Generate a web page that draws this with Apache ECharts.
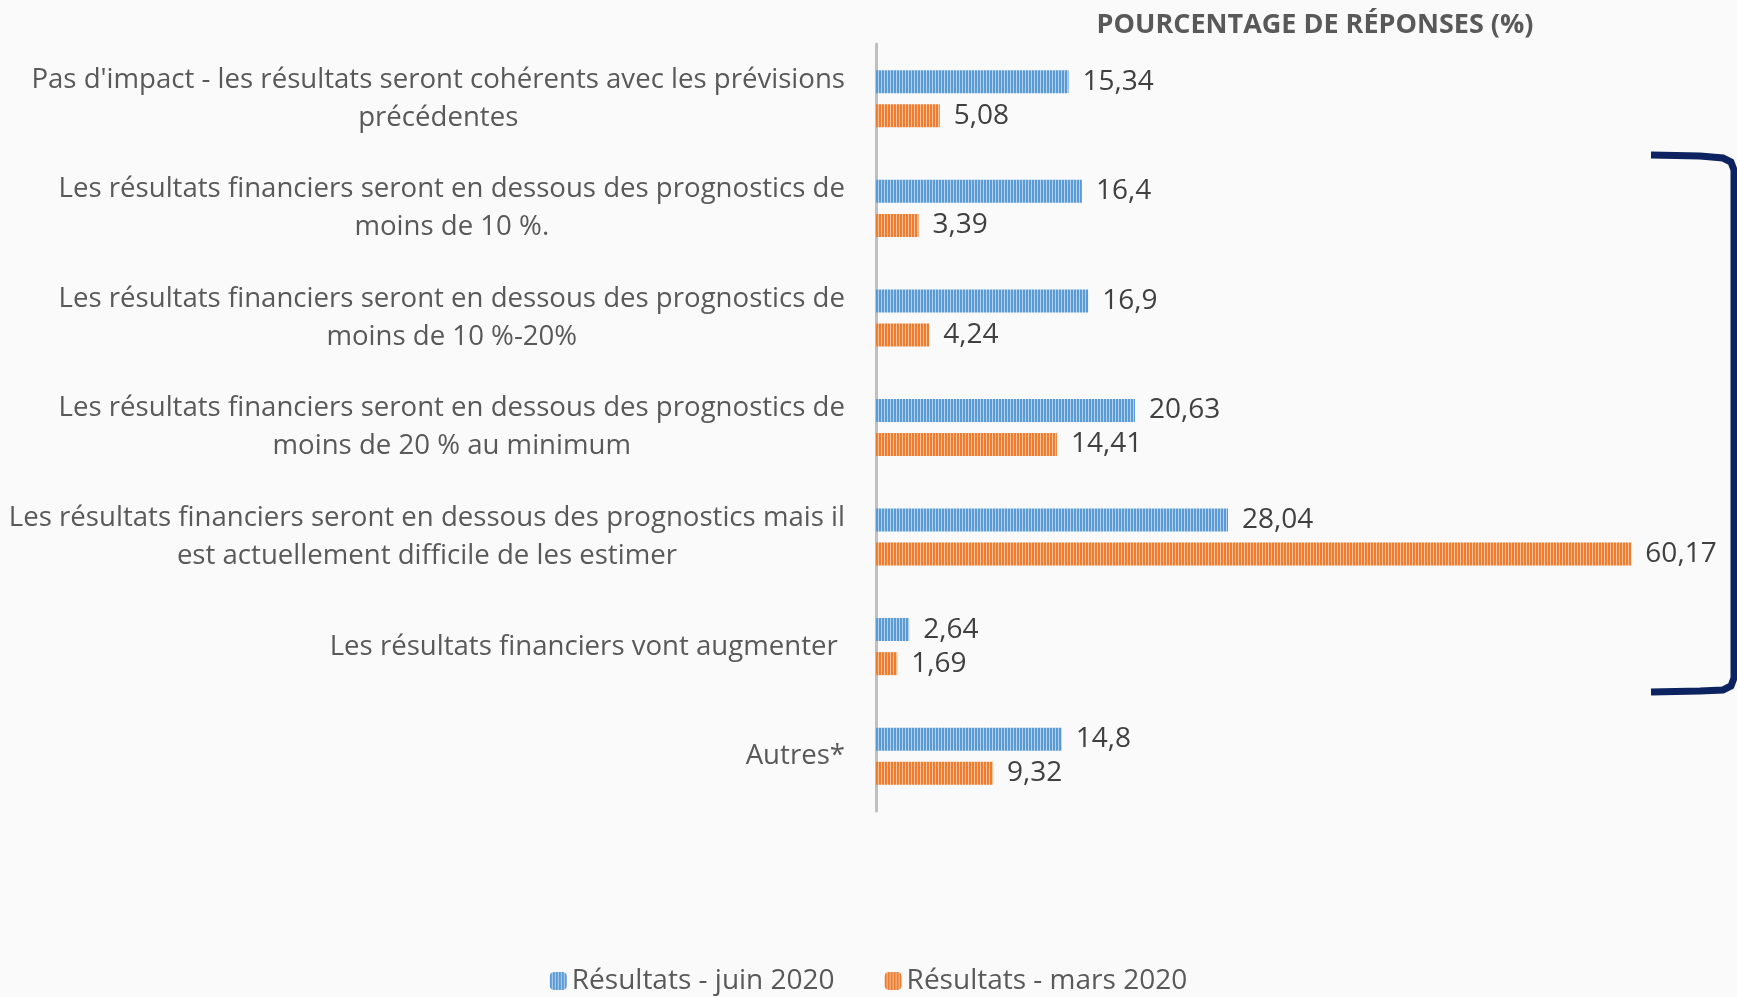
<!DOCTYPE html>
<html lang="fr">
<head>
    <meta charset="UTF-8">
    <title>Pourcentage de réponses</title>
    <script src="https://cdn.jsdelivr.net/npm/echarts@6/dist/echarts.min.js"></script>
</head>
<style>
    html, body { margin: 0; padding: 0; background: #fafafa; }
    #main { width: 1737px; height: 997px; }
</style>
<body>
<div id="main"></div>
<script>
    // données
    var categories = [
        "Pas d'impact - les résultats seront cohérents avec les prévisions\nprécédentes",
        "Les résultats financiers seront en dessous des prognostics de\nmoins de 10 %.",
        "Les résultats financiers seront en dessous des prognostics de\nmoins de 10 %-20%",
        "Les résultats financiers seront en dessous des prognostics de\nmoins de 20 % au minimum",
        "Les résultats financiers seront en dessous des prognostics mais il\nest actuellement difficile de les estimer",
        "Les résultats financiers vont augmenter ",
        "Autres*"
    ];
    var juin2020 = [15.34, 16.4, 16.9, 20.63, 28.04, 2.64, 14.8];
    var mars2020 = [5.08, 3.39, 4.24, 14.41, 60.17, 1.69, 9.32];
    var seriesNames = ['Résultats - juin 2020', 'Résultats - mars 2020'];

    var FONT = '"Open Sans", sans-serif';

    // motif rayé vertical
    function stripes(dark, light) {
        var c = document.createElement('canvas');
        c.width = 3; c.height = 3;
        var ctx = c.getContext('2d');
        ctx.fillStyle = dark;
        ctx.fillRect(0, 0, 3, 3);
        ctx.fillStyle = light;
        ctx.fillRect(2, 0, 1, 3);
        return { image: c, repeat: 'repeat' };
    }

    function fmt(p) {
        return String(p.value).replace('.', ',');
    }

    var myChart = echarts.init(document.getElementById('main'));
    var option = {
        backgroundColor: '#fafafa',
        animation: false,
        grid: { left: 876, top: 44, width: 816, height: 767 },
        legend: {
            data: seriesNames,
            left: 'center',
            top: 962,
            itemWidth: 17,
            itemHeight: 18,
            itemGap: 50,
            textStyle: { fontFamily: FONT, fontSize: 28, color: '#595959' }
        },
        xAxis: { type: 'value', min: 0, max: 65, show: false },
        yAxis: {
            type: 'category',
            inverse: true,
            data: categories,
            axisLine: { show: true, lineStyle: { color: '#c0c0c0', width: 3 } },
            axisTick: { show: false },
            axisLabel: {
                margin: 31,
                formatter: function (v) {
                    return v.split('\n').map(function (l) { return '{c|' + l + '}'; }).join('\n');
                },
                rich: {
                    c: { align: 'center', fontFamily: FONT, fontSize: 27.6, lineHeight: 38, color: '#595959' }
                }
            }
        },
        series: [
            {
                name: seriesNames[0],
                type: 'bar',
                data: juin2020,
                barWidth: 23,
                barGap: '48%',
                itemStyle: { color: stripes('#5b9bd5', '#b4d1ee') },
                label: { show: true, position: 'right', distance: 14, formatter: fmt,
                         fontFamily: FONT, fontSize: 28, color: '#404040' }
            },
            {
                name: seriesNames[1],
                type: 'bar',
                data: mars2020,
                barWidth: 23,
                itemStyle: { color: stripes('#ed7d31', '#f7c29c') },
                label: { show: true, position: 'right', distance: 14, formatter: fmt,
                         fontFamily: FONT, fontSize: 28, color: '#404040' }
            }
        ],
        graphic: [
            {
                type: 'text',
                style: {
                    x: 1315, y: 25, text: 'POURCENTAGE DE RÉPONSES (%)',
                    align: 'center', verticalAlign: 'middle',
                    fontFamily: FONT, fontWeight: 'bold', fontSize: 27, fill: '#595959'
                }
            },
            {
                type: 'polyline',
                shape: { points: [[1651, 155], [1700, 156], [1723, 158], [1731, 162], [1734, 170],
                                  [1734, 678], [1731, 686], [1723, 690], [1700, 691], [1651, 692]] },
                style: { fill: null, stroke: '#0d2260', lineWidth: 7 }
            }
        ]
    };
    myChart.setOption(option);
</script>
</body>
</html>
